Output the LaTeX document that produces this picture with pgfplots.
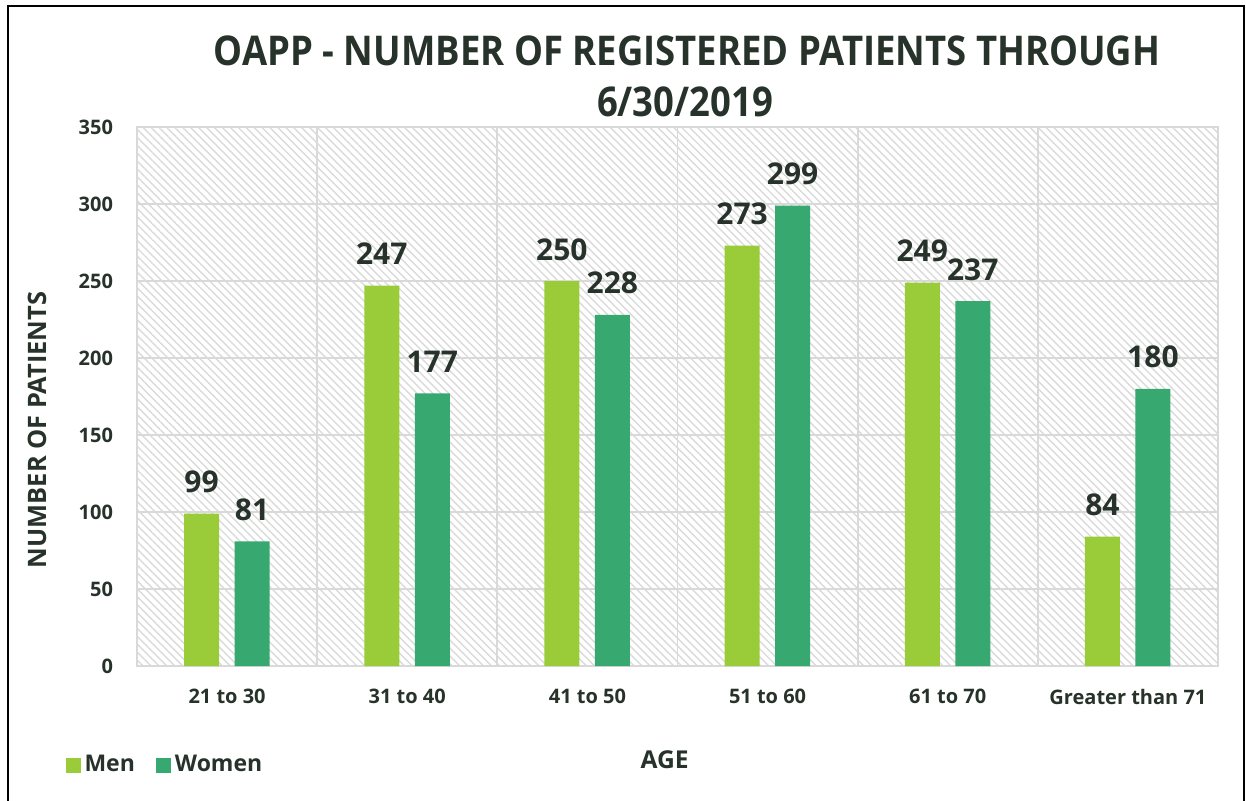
\documentclass[border=0pt]{standalone}
\usepackage{fontspec}
\setmainfont{Open Sans}
\usepackage{pgfplots}
\pgfplotsset{compat=1.18}
\usetikzlibrary{patterns.meta}
\definecolor{menc}{RGB}{154,203,57}
\definecolor{womc}{RGB}{55,168,112}
\definecolor{txt}{RGB}{38,50,42}
\definecolor{gridc}{RGB}{217,217,217}
\definecolor{hatch}{RGB}{218,218,218}
\begin{document}
\begin{tikzpicture}[x=1pt,y=1pt]
\useasboundingbox (0,0) rectangle (623,400);
\draw[line width=1.3pt, black] (4,-6) rectangle (622,397);
\node[anchor=base, xscale=0.89, font=\bfseries\fontsize{20.5}{24}\selectfont, text=txt] at (343.5,367) {OAPP - NUMBER OF REGISTERED PATIENTS THROUGH};
\node[anchor=base, xscale=0.89, font=\bfseries\fontsize{20.5}{24}\selectfont, text=txt] at (342.5,341.5) {6/30/2019};
\begin{axis}[
  at={(68.5pt,67pt)}, anchor=south west,
  scale only axis, width=540.5pt, height=269.5pt,
  xmin=-0.5, xmax=5.5, ymin=0, ymax=350,
  xtick={0,1,2,3,4,5},
  xticklabels={21 to 30,31 to 40,41 to 50,51 to 60,61 to 70,Greater than 71},
  minor xtick={0.5,1.5,2.5,3.5,4.5},
  ytick={0,50,...,350},
  ymajorgrids, xminorgrids,
  grid style={gridc, line width=0.9pt},
  minor grid style={gridc, line width=0.9pt},
  axis line style={gridc, line width=0.9pt},
  major tick length=0pt, minor tick length=0pt,
  /pgf/number format/assume math mode=true,
  ticklabel style={font=\bfseries\fontsize{10}{12}\selectfont, text=txt},
  xticklabel style={yshift=-8pt},
  yticklabel style={xshift=-8.5pt},
  axis background/.style={pattern={Lines[angle=-45,distance=2.8pt,line width=0.7pt]}, pattern color=hatch},
  xlabel={AGE},
  xlabel style={at={(axis description cs:0.488,-0.174)}, anchor=center, font=\bfseries\fontsize{12.3}{14}\selectfont, text=txt},
  ylabel={NUMBER OF PATIENTS},
  ylabel style={at={(axis description cs:-0.0925,0.438)}, anchor=center, rotate=0, font=\bfseries\fontsize{12.7}{14}\selectfont, text=txt},
  bar width=17.5pt,
  nodes near coords,
  every node near coord/.append style={font=\bfseries\fontsize{15}{18}\selectfont, text=txt, inner sep=0pt, yshift=10.5pt, anchor=base},
  legend columns=2,
  legend style={draw=none, fill=none, at={(axis description cs:-0.072,-0.184)}, anchor=west,
    font=\bfseries\fontsize{11.5}{13}\selectfont, text=txt,
    /tikz/every even column/.append style={column sep=8.5pt}},
  legend image code/.code={\fill[#1] (0pt,-3.75pt) rectangle (7.5pt,3.75pt);},
  clip=false,
]
\addplot[ybar, bar shift=-12.75pt, fill=menc, draw=none, every node near coord/.append style={xshift=-12.75pt}] coordinates {(0,99) (1,247) (2,250) (3,273) (4,249) (5,84)};
\addlegendentry{Men}
\addplot[ybar, bar shift=12.5pt, fill=womc, draw=none, every node near coord/.append style={xshift=12.5pt}] coordinates {(0,81) (1,177) (2,228) (3,299) (4,237) (5,180)};
\addlegendentry{Women}
\end{axis}
\end{tikzpicture}
\end{document}
